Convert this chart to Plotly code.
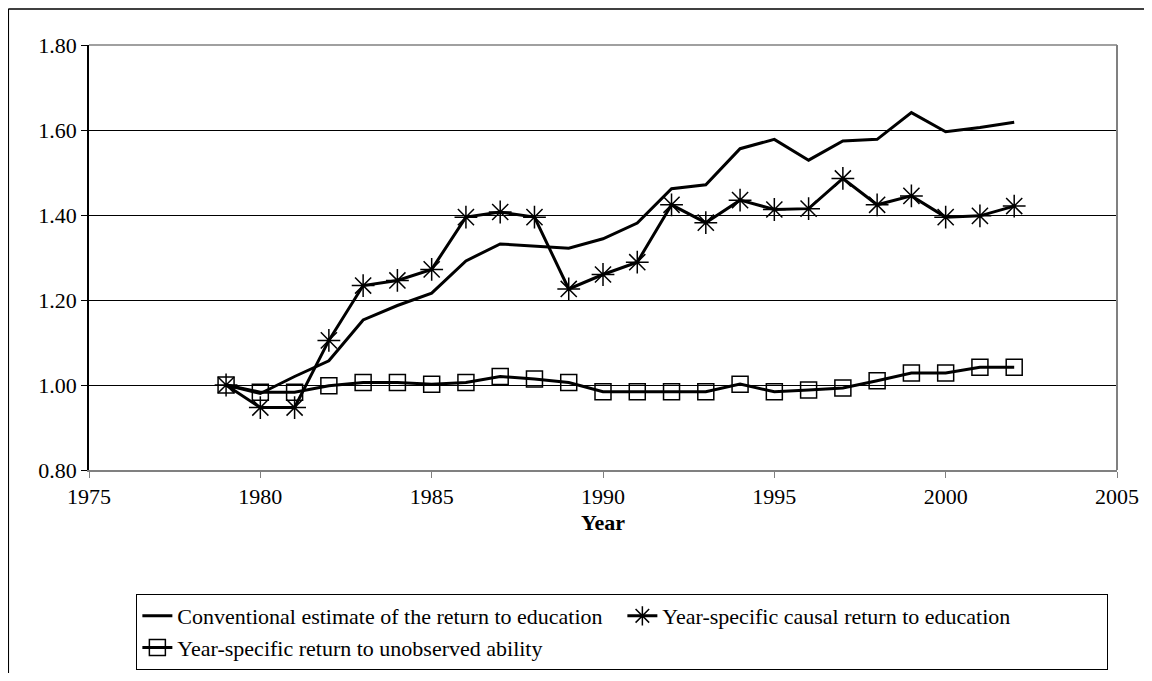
import plotly.graph_objects as go

years = list(range(1979, 2003))
conventional = [1.00, 0.98, 1.02, 1.057, 1.153, 1.187, 1.216, 1.292, 1.332, 1.327,
                1.322, 1.344, 1.381, 1.462, 1.471, 1.556, 1.578, 1.529, 1.574, 1.578,
                1.641, 1.596, 1.606, 1.618]
causal = [1.00, 0.947, 0.947, 1.105, 1.234, 1.246, 1.272, 1.395, 1.407, 1.395,
          1.226, 1.260, 1.289, 1.424, 1.382, 1.435, 1.413, 1.415, 1.486, 1.424,
          1.445, 1.395, 1.398, 1.421]
ability = [1.00, 0.983, 0.983, 0.998, 1.006, 1.006, 1.002, 1.006, 1.020, 1.014,
           1.006, 0.984, 0.984, 0.984, 0.984, 1.002, 0.984, 0.988, 0.993, 1.010,
           1.028, 1.028, 1.042, 1.042]
names = ["Conventional estimate of the return to education",
         "Year-specific causal return to education",
         "Year-specific return to unobserved ability"]

FONT = "Liberation Serif, Times New Roman, serif"

fig = go.Figure()
fig.add_trace(go.Scatter(x=years, y=conventional, name=names[0], mode="lines",
                         line=dict(color="black", width=3)))
fig.add_trace(go.Scatter(x=years, y=causal, name=names[1], mode="lines+markers",
                         line=dict(color="black", width=3),
                         marker=dict(symbol="asterisk-open", size=19, color="black",
                                     line=dict(color="black", width=1.5))))
fig.add_trace(go.Scatter(x=years, y=ability, name=names[2], mode="lines+markers",
                         line=dict(color="black", width=3),
                         marker=dict(symbol="square-open", size=16, color="black",
                                     line=dict(color="black", width=1.5))))

fig.update_layout(
    width=1136, height=665,
    margin=dict(l=81, r=27, t=37, b=203, autoexpand=False),
    paper_bgcolor="white", plot_bgcolor="white",
    font=dict(family=FONT, size=22, color="black"),
    showlegend=True,
    legend=dict(orientation="h", xref="container", yref="container",
                x=0.113, y=0.1188, xanchor="left", yanchor="top",
                bordercolor="black", borderwidth=1, font=dict(size=22),
                entrywidth=440, entrywidthmode="pixels",
                itemwidth=30, tracegroupgap=0),
    xaxis=dict(range=[1975, 2005], dtick=5, tick0=1975, showgrid=False,
               zeroline=False, showline=True, linecolor="#808080", linewidth=1.5,
               ticks="outside", ticklen=6, tickcolor="#808080",
               title=dict(text="<b>Year</b>", standoff=6, font=dict(size=22))),
    yaxis=dict(range=[0.8, 1.8], dtick=0.2, tick0=0.8, tickformat=".2f",
               showgrid=True, gridcolor="black", gridwidth=1,
               zeroline=False, showline=True, linecolor="black", linewidth=1.5,
               ticks="outside", ticklen=6, tickcolor="black", mirror=False),
    shapes=[
        dict(type="line", xref="paper", yref="paper", x0=1, x1=1, y0=0, y1=1,
             line=dict(color="#808080", width=2)),
        dict(type="line", xref="paper", yref="paper", x0=0, x1=1, y0=1, y1=1,
             line=dict(color="#808080", width=1.5)),
        dict(type="line", xref="paper", yref="paper", x0=-0.0785, x1=1.03,
             y0=1.085, y1=1.085, line=dict(color="black", width=1.5)),
        dict(type="line", xref="paper", yref="paper", x0=-0.0785, x1=-0.0785,
             y0=-0.48, y1=1.085, line=dict(color="black", width=1.5)),
    ],
)

fig.write_html("out.html")
